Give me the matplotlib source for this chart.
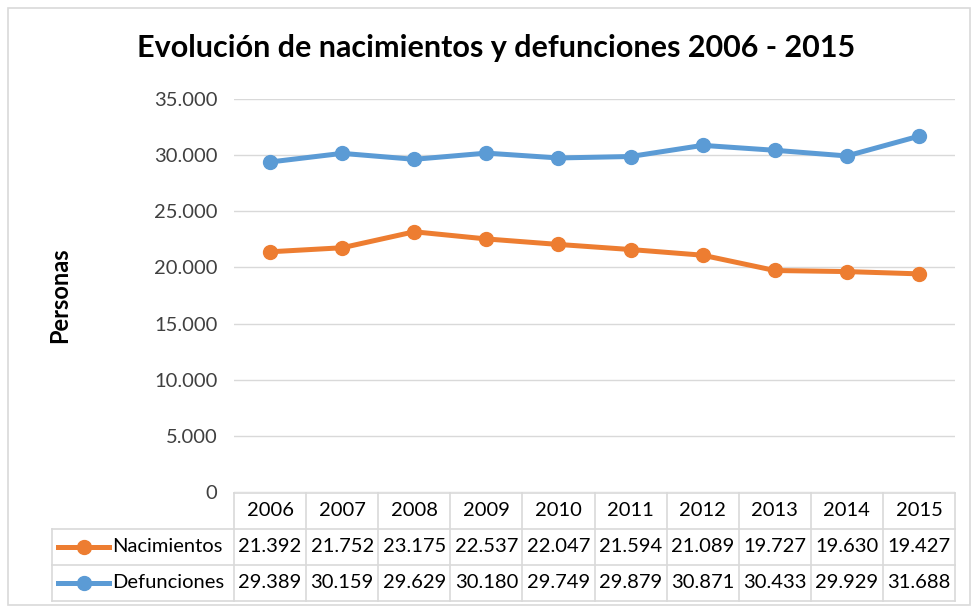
import matplotlib.pyplot as plt
from matplotlib.patches import Rectangle
from matplotlib.lines import Line2D

years = ['2006', '2007', '2008', '2009', '2010', '2011', '2012', '2013', '2014', '2015']
nacimientos = [21392, 21752, 23175, 22537, 22047, 21594, 21089, 19727, 19630, 19427]
defunciones = [29389, 30159, 29629, 30180, 29749, 29879, 30871, 30433, 29929, 31688]
series = [('Nacimientos', nacimientos, '#ED7D31'), ('Defunciones', defunciones, '#5B9BD5')]

plt.rcParams['font.family'] = ['Lato', 'DejaVu Sans']

W, H = 972, 607
fig = plt.figure(figsize=(W / 100, H / 100), dpi=100)

def fx(px):
    return px / W

def fy(py):
    return 1 - py / H

# chart border
fig.patches.append(Rectangle((fx(8), fy(605)), fx(962), 597 / H, transform=fig.transFigure,
                             fill=False, edgecolor='#d9d9d9', linewidth=1.2))

left, right, top, bottom = 234, 955, 99, 492
ax = fig.add_axes([fx(left), fy(bottom), fx(right - left), (bottom - top) / H])

x = list(range(len(years)))
for name, vals, col in series:
    ax.plot(x, vals, color=col, linewidth=3.6, marker='o', markersize=10, zorder=3)

ax.set_xlim(-0.5, len(years) - 0.5)
ax.set_ylim(0, 35000)
ax.set_yticks(range(0, 35001, 5000))
ax.set_yticklabels(['0' if v == 0 else f'{v // 1000}.000' for v in range(0, 35001, 5000)],
                   fontsize=14.5, color='#404040')
ax.set_xticks([])
ax.tick_params(axis='y', length=0, pad=12)
ax.grid(axis='y', color='#d9d9d9', linewidth=1)
ax.set_axisbelow(True)
for s in ax.spines.values():
    s.set_visible(False)

fig.text(0.51, fy(48), 'Evolución de nacimientos y defunciones 2006 - 2015',
         ha='center', va='center', fontsize=22, fontweight='bold', color='#000000')
fig.text(fx(60), fy(295), 'Personas', rotation=90, ha='center', va='center',
         fontsize=17, fontweight='bold', color='#000000')

# data table below the plot
gc = '#d9d9d9'
row_y = [493, 529, 565, 601]
col_w = (right - left) / len(years)
col_x = [left + i * col_w for i in range(len(years) + 1)]
lab_x = 52
fs = 14.5

def hline(x0, x1, y):
    fig.add_artist(Line2D([fx(x0), fx(x1)], [fy(y), fy(y)], color=gc, linewidth=1.2))

def vline(xp, y0, y1):
    fig.add_artist(Line2D([fx(xp), fx(xp)], [fy(y0), fy(y1)], color=gc, linewidth=1.2))

hline(left, right, row_y[0])
for y in row_y[1:]:
    hline(lab_x, right, y)
for xp in col_x:
    vline(xp, row_y[0], row_y[3])
vline(lab_x, row_y[1], row_y[3])

for i, yr in enumerate(years):
    fig.text(fx(col_x[i] + col_w / 2), fy((row_y[0] + row_y[1]) / 2), yr,
             ha='center', va='center', fontsize=fs, color='#000000')

for r, (name, vals, col) in enumerate(series):
    yc = fy((row_y[r + 1] + row_y[r + 2]) / 2)
    fig.add_artist(Line2D([fx(58), fx(109)], [yc, yc], color=col, linewidth=3.6))
    fig.add_artist(Line2D([fx(83.5)], [yc], color=col, marker='o', markersize=10))
    fig.text(fx(112), yc, name, ha='left', va='center', fontsize=fs, color='#000000')
    for i, v in enumerate(vals):
        s = f'{v:,}'.replace(',', '.')
        fig.text(fx(col_x[i] + col_w / 2), yc, s, ha='center', va='center',
                 fontsize=fs, color='#000000')

fig.savefig('out.png', dpi=100)
